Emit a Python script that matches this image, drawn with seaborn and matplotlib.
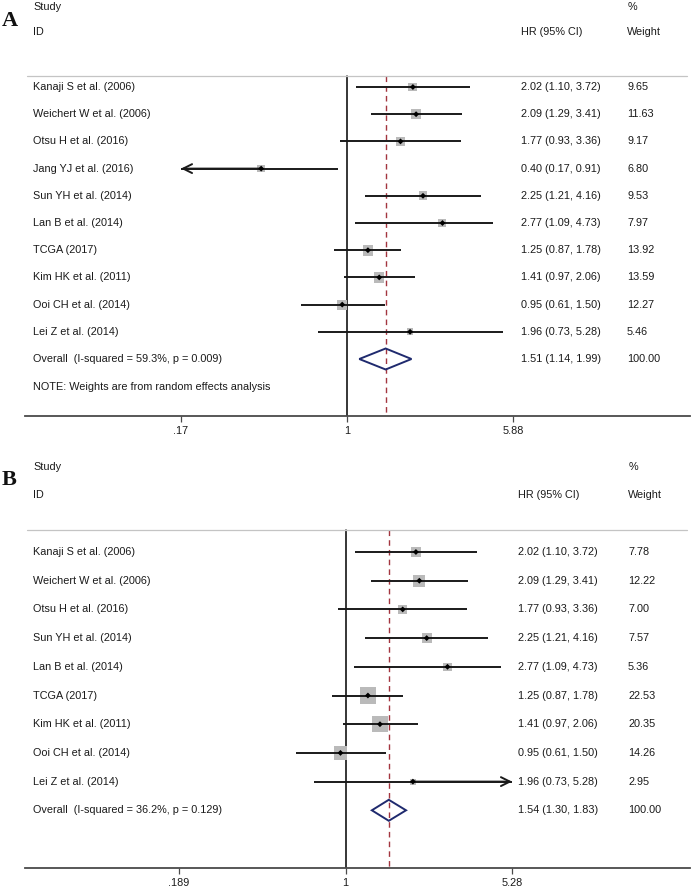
import numpy as np
import pandas as pd
import matplotlib
matplotlib.use("Agg")
import matplotlib.pyplot as plt
import seaborn as sns
from matplotlib.transforms import blended_transform_factory
from matplotlib.ticker import NullLocator, FixedLocator, FixedFormatter

sns.set_theme(style="white")
plt.rcParams['font.family'] = ['Liberation Sans', 'DejaVu Sans']

# ---------------- data ----------------
studies_a = ["Kanaji S et al. (2006)", "Weichert W et al. (2006)", "Otsu H et al. (2016)",
             "Jang YJ et al. (2016)", "Sun YH et al. (2014)", "Lan B et al. (2014)",
             "TCGA (2017)", "Kim HK et al. (2011)", "Ooi CH et al. (2014)", "Lei Z et al. (2014)"]
hr_a = [2.02, 2.09, 1.77, 0.40, 2.25, 2.77, 1.25, 1.41, 0.95, 1.96]
lo_a = [1.10, 1.29, 0.93, 0.17, 1.21, 1.09, 0.87, 0.97, 0.61, 0.73]
hi_a = [3.72, 3.41, 3.36, 0.91, 4.16, 4.73, 1.78, 2.06, 1.50, 5.28]
w_a = [9.65, 11.63, 9.17, 6.80, 9.53, 7.97, 13.92, 13.59, 12.27, 5.46]
overall_a = [1.51, 1.14, 1.99]
overall_label_a = "Overall  (I-squared = 59.3%, p = 0.009)"
ticks_a = [0.17, 1, 5.88]
ticklabels_a = [".17", "1", "5.88"]

studies_b = ["Kanaji S et al. (2006)", "Weichert W et al. (2006)", "Otsu H et al. (2016)",
             "Sun YH et al. (2014)", "Lan B et al. (2014)", "TCGA (2017)",
             "Kim HK et al. (2011)", "Ooi CH et al. (2014)", "Lei Z et al. (2014)"]
hr_b = [2.02, 2.09, 1.77, 2.25, 2.77, 1.25, 1.41, 0.95, 1.96]
lo_b = [1.10, 1.29, 0.93, 1.21, 1.09, 0.87, 0.97, 0.61, 0.73]
hi_b = [3.72, 3.41, 3.36, 4.16, 4.73, 1.78, 2.06, 1.50, 5.28]
w_b = [7.78, 12.22, 7.00, 7.57, 5.36, 22.53, 20.35, 14.26, 2.95]
overall_b = [1.54, 1.30, 1.83]
overall_label_b = "Overall  (I-squared = 36.2%, p = 0.129)"
ticks_b = [0.189, 1, 5.28]
ticklabels_b = [".189", "1", "5.28"]

note_text = "NOTE: Weights are from random effects analysis"

# ---------------- layout ----------------
W, H = 692, 888
FS = 7.8
TXT = "#1a1a1a"
fig = plt.figure(figsize=(W / 100, H / 100), dpi=100)


def px_axes(left, top, right, bottom):
    return fig.add_axes([left / W, 1 - bottom / H, (right - left) / W, (bottom - top) / H])


def draw_panel(ax, box, studies, hr, lo, hi, w, overall, ov_label, ticks, ticklabels,
               tick_px, row0_px, row_sp, sep_px, size_k, note=None,
               hr_x=521, wt_x=628, head_rows=(-2.94, -2.0)):
    left, top, right, bottom = box
    n = len(studies)
    rows = np.arange(n)
    ov_row = n

    ax.set_xscale("log")
    # axis limits from the tick calibration
    k = (tick_px[1] - tick_px[0]) / (np.log(ticks[-1]) - np.log(ticks[0]))
    lnmin = np.log(ticks[0]) - (tick_px[0] - left) / k
    lnmax = np.log(ticks[-1]) + (right - tick_px[1]) / k
    xmin, xmax = ticks[0], ticks[-1]

    df = pd.DataFrame({"study": studies, "hr": hr, "lo": lo, "hi": hi, "w": w, "row": rows})

    # weight squares
    wmax = max(w)
    sns.scatterplot(data=df, x="hr", y="row", size="w", sizes=(0, size_k * wmax),
                    size_norm=(0, wmax), marker="s", color="#bababa", edgecolor="none",
                    linewidth=0, legend=False, ax=ax, zorder=2)
    # confidence intervals (with arrows where they run past the axis range)
    LW = 1.4
    for _, r in df.iterrows():
        l = max(r.lo, xmin)
        h = min(r.hi, xmax)
        ax.plot([l, h], [r.row, r.row], color="#1a1a1a", lw=LW, zorder=3,
                solid_capstyle="butt")
        if r.lo <= xmin:
            ax.annotate("", xy=(xmin, r.row), xytext=(min(r.hr, h), r.row),
                        arrowprops=dict(arrowstyle="->", lw=LW, color="#1a1a1a",
                                        mutation_scale=16, shrinkA=0, shrinkB=0), zorder=3)
        if r.hi >= xmax:
            ax.annotate("", xy=(xmax, r.row), xytext=(max(r.hr, l), r.row),
                        arrowprops=dict(arrowstyle="->", lw=LW, color="#1a1a1a",
                                        mutation_scale=16, shrinkA=0, shrinkB=0), zorder=3)
    # point estimates
    sns.scatterplot(data=df, x="hr", y="row", marker="D", s=9, color="black",
                    edgecolor="none", legend=False, ax=ax, zorder=4)

    # y geometry
    ylo = (bottom - row0_px) / row_sp
    yhi = (top - row0_px) / row_sp
    sep_row = (sep_px - row0_px) / row_sp

    # overall diamond
    est, olo, ohi = overall
    dh = 10.5 / row_sp
    ax.fill([olo, est, ohi, est, olo], [ov_row, ov_row - dh, ov_row, ov_row + dh, ov_row],
            fill=False, edgecolor="#1f2a6e", lw=1.4, zorder=5)

    # reference lines
    ax.plot([1, 1], [sep_row, ylo], color="black", lw=1.1, zorder=1)
    ax.plot([est, est], [sep_row, ylo], color="#a3353f", lw=1.0, ls=(0, (4, 3)), zorder=1)

    ax.set_xlim(np.exp(lnmin), np.exp(lnmax))
    ax.set_ylim(ylo, yhi)

    # axes styling
    for s in ["top", "left", "right"]:
        ax.spines[s].set_visible(False)
    ax.spines["bottom"].set_color("#4a4a4a")
    ax.spines["bottom"].set_linewidth(1.3)
    ax.xaxis.set_major_locator(FixedLocator(ticks))
    ax.xaxis.set_major_formatter(FixedFormatter(ticklabels))
    ax.xaxis.set_minor_locator(NullLocator())
    ax.set_yticks([])
    ax.tick_params(axis="x", direction="out", length=4, width=0.9, colors="#4a4a4a",
                   labelsize=FS, labelcolor=TXT, pad=3.5, bottom=True)
    ax.set_xlabel("")
    ax.set_ylabel("")
    ax.patch.set_alpha(0)

    # separator
    ax.plot([0.003, 0.995], [sep_row, sep_row], color="#c4c4c4", lw=0.9,
            transform=blended_transform_factory(ax.transAxes, ax.transData), zorder=1)

    # text columns
    tr = blended_transform_factory(ax.transAxes, ax.transData)
    fx = lambda px: (px - left) / (right - left)
    tk = dict(transform=tr, fontsize=FS, color=TXT, va="center", ha="left", clip_on=False)
    ax.text(fx(33), head_rows[0], "Study", **tk)
    ax.text(fx(33), head_rows[1], "ID", **tk)
    ax.text(fx(hr_x), head_rows[1], "HR (95% CI)", **tk)
    ax.text(fx(wt_x + 1), head_rows[0], "%", **tk)
    ax.text(fx(wt_x), head_rows[1], "Weight", **tk)
    for i in range(n):
        ax.text(fx(33), rows[i], studies[i], **tk)
        ax.text(fx(hr_x), rows[i], f"{hr[i]:.2f} ({lo[i]:.2f}, {hi[i]:.2f})", **tk)
        ax.text(fx(wt_x), rows[i], f"{w[i]:.2f}", **tk)
    ax.text(fx(33), ov_row, ov_label, **tk)
    ax.text(fx(hr_x), ov_row, f"{est:.2f} ({olo:.2f}, {ohi:.2f})", **tk)
    ax.text(fx(wt_x), ov_row, "100.00", **tk)
    if note:
        ax.text(fx(33), ov_row + 1.03, note, **tk)


box_a = (25, 0, 690, 416)
ax_a = px_axes(*box_a)
draw_panel(ax_a, box_a, studies_a, hr_a, lo_a, hi_a, w_a, overall_a, overall_label_a,
           ticks_a, ticklabels_a, tick_px=(181, 513), row0_px=87, row_sp=27.2, sep_px=76,
           size_k=4.2, note=note_text, hr_x=521, wt_x=627, head_rows=(-2.94, -2.02))

box_b = (25, 440, 690, 868)
ax_b = px_axes(*box_b)
draw_panel(ax_b, box_b, studies_b, hr_b, lo_b, hi_b, w_b, overall_b, overall_label_b,
           ticks_b, ticklabels_b, tick_px=(179, 512), row0_px=552, row_sp=28.7, sep_px=530,
           size_k=6.4, note=None, hr_x=518, wt_x=628, head_rows=(-2.96, -1.99))

# panel letters
fig.text(2 / W, 1 - 21 / H, "A", fontsize=16, fontweight="bold", family="Liberation Serif",
         va="center", ha="left", color="#111111")
fig.text(2 / W, 1 - 480 / H, "B", fontsize=16, fontweight="bold", family="Liberation Serif",
         va="center", ha="left", color="#111111")

fig.savefig("out.png", dpi=100, facecolor="white")
